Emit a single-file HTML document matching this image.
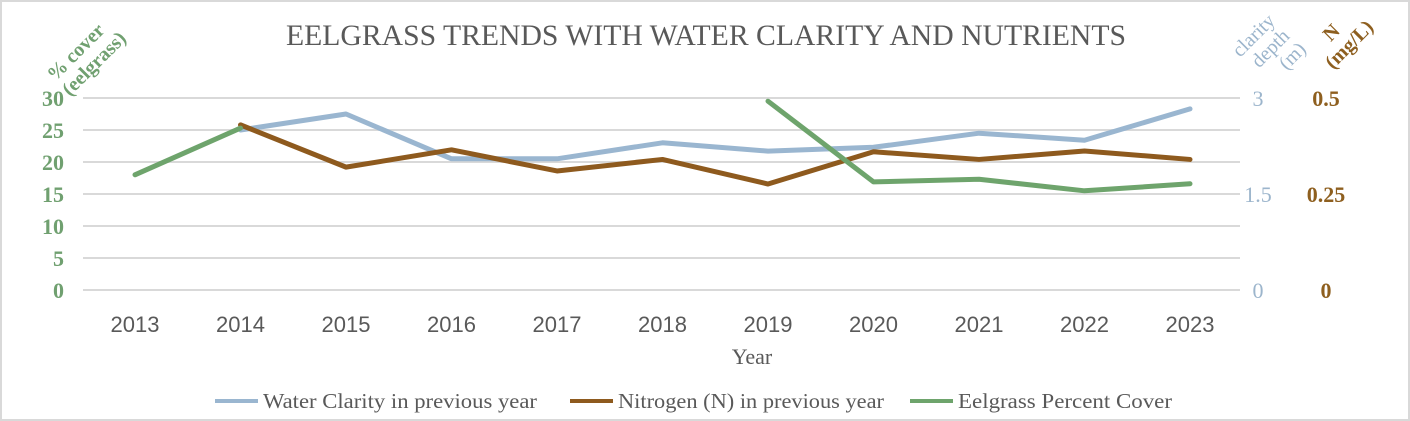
<!DOCTYPE html>
<html><head><meta charset="utf-8"><style>
body{margin:0;background:#fff}
svg{display:block}
text{font-family:"Liberation Serif",serif}
</style></head><body>
<svg id="chart" width="1410" height="421" viewBox="0 0 1410 421">
<rect x="1" y="1" width="1408" height="419" fill="#fff" stroke="#d9d9d9" stroke-width="2"/>
<text x="286" y="45" font-size="30" fill="#595959" textLength="840" lengthAdjust="spacingAndGlyphs">EELGRASS TRENDS WITH WATER CLARITY AND NUTRIENTS</text>
<g id="grid"></g><g id="axes"></g><g id="series"></g>
<text x="752" y="364" text-anchor="middle" font-size="22" fill="#595959">Year</text>
<text transform="translate(55,82) rotate(-45)" font-size="20" fill="#70a070" font-weight="bold"><tspan x="0" y="0">% cover</tspan><tspan x="0" y="21">(eelgrass)</tspan></text>
<text transform="translate(1240,58) rotate(-45)" font-size="20" fill="#9cb5cc"><tspan x="0" y="0">clarity</tspan><tspan x="6" y="21">depth</tspan><tspan x="24" y="42">(m)</tspan></text>
<text transform="translate(1318,55) rotate(-45)" font-size="20" fill="#8e5f1f" font-weight="bold"><tspan x="18" y="0">N</tspan><tspan x="0" y="21">(mg/L)</tspan></text>
<g>
<line x1="215" y1="401" x2="258" y2="401" stroke="#9ab6d0" stroke-width="4"/>
<text x="263" y="408" font-size="21" fill="#595959" textLength="274" lengthAdjust="spacingAndGlyphs">Water Clarity in previous year</text>
<line x1="570" y1="401" x2="613" y2="401" stroke="#8e5a1e" stroke-width="4"/>
<text x="618" y="408" font-size="21" fill="#595959" textLength="266" lengthAdjust="spacingAndGlyphs">Nitrogen (N) in previous year</text>
<line x1="910" y1="401" x2="953" y2="401" stroke="#6ea46c" stroke-width="4"/>
<text x="958" y="408" font-size="21" fill="#595959" textLength="214" lengthAdjust="spacingAndGlyphs">Eelgrass Percent Cover</text>
</g>
</svg>
<script>
const years=[2013,2014,2015,2016,2017,2018,2019,2020,2021,2022,2023];
const clarity=[null,2.5,2.75,2.05,2.05,2.3,2.17,2.23,2.45,2.34,2.83];
const nitrogen=[null,0.43,0.32,0.365,0.31,0.34,0.276,0.36,0.34,0.362,0.34];
const eelgrass=[18,25.3,null,null,null,null,29.5,16.9,17.3,15.5,16.6];
const leftTicks=[0,5,10,15,20,25,30];
const clarityTicks=[0,1.5,3];
const nitroTicks=["0","0.25","0.5"];
const NS="http://www.w3.org/2000/svg";
const x=i=>135+i*105.5;
const yL=v=>290-v*6.4;
const yC=v=>yL(v*10);
const yN=v=>yL(v*60);
function mk(t,a,p){const e=document.createElementNS(NS,t);for(const k in a)e.setAttribute(k,a[k]);p.appendChild(e);return e;}
const grid=document.getElementById('grid'),axes=document.getElementById('axes'),ser=document.getElementById('series');
leftTicks.forEach(v=>{
 const l=mk('line',{x1:83,x2:1240,y1:yL(v),y2:yL(v),stroke:'#d9d9d9','stroke-width':2},grid);
 
 
 const t=mk('text',{x:64,y:yL(v)+8,'text-anchor':'end','font-size':22,fill:'#70a070','font-weight':'bold'},axes);
 t.textContent=v;
 
 
});
clarityTicks.forEach(v=>{
 const t=mk('text',{x:1258,y:yC(v)+8,'text-anchor':'middle','font-size':22,fill:'#9cb5cc'},axes);
 t.textContent=v;
 
 
});
nitroTicks.forEach(v=>{
 const t=mk('text',{x:1326,y:yN(+v)+8,'text-anchor':'middle','font-size':22,fill:'#8e5f1f','font-weight':'bold'},axes);
 t.textContent=v;
 
 
});
years.forEach((yr,i)=>{
 const t=mk('text',{x:x(i),y:332,'text-anchor':'middle','font-size':22,fill:'#595959'},axes);
 t.style.fontFamily='"Liberation Sans",sans-serif';
 t.textContent=yr;
 
 
});
function line(vals,fy,col,name){
 let d='',pen=false;
 vals.forEach((v,i)=>{if(v==null){pen=false;return;}d+=(pen?'L':'M')+x(i)+' '+fy(v)+' ';pen=true;});
 const p=mk('path',{d:d,fill:'none',stroke:col,'stroke-width':5,'stroke-linejoin':'round','stroke-linecap':'round'},ser);
 
 
}
line(clarity,yC,'#9ab6d0','clarity-line');
line(nitrogen,yN,'#8e5a1e','nitrogen-line');
line(eelgrass,yL,'#6ea46c','eelgrass-line');
</script>
</body></html>
